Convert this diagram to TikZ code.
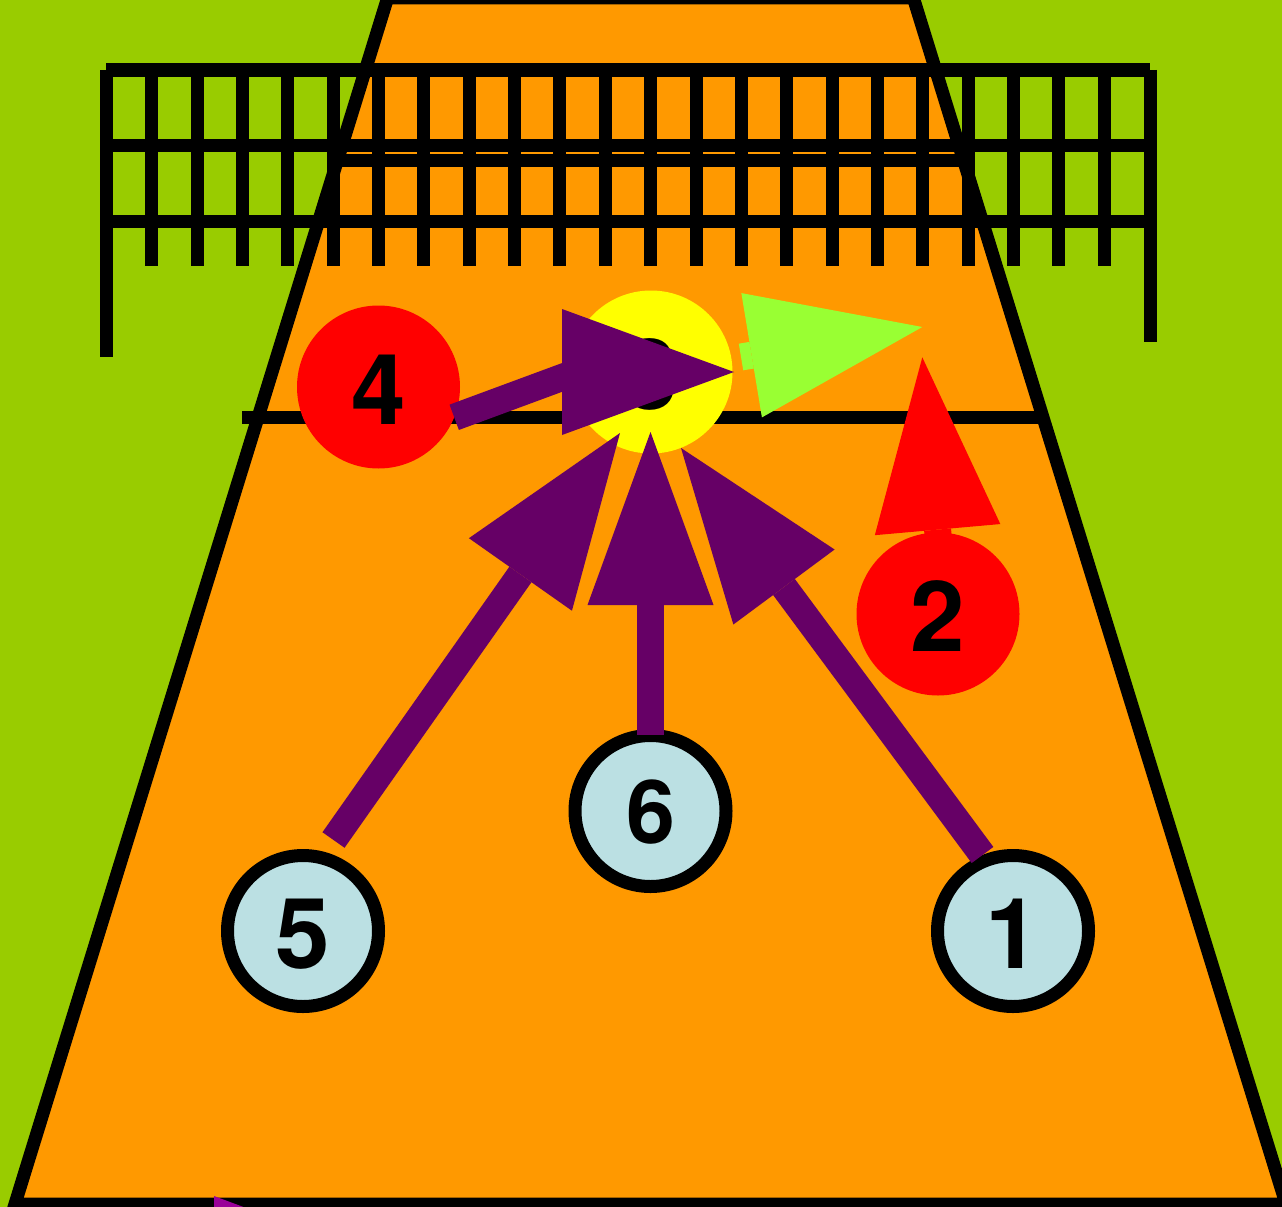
\documentclass[tikz,border=0pt]{standalone}
\usepackage{fontspec}
\setmainfont{TeX Gyre Heros}
\usetikzlibrary{arrows.meta}
\definecolor{grassc}{HTML}{99CC00}
\definecolor{courtc}{HTML}{FF9900}
\definecolor{purplec}{HTML}{660066}
\definecolor{limec}{HTML}{99FF33}
\definecolor{bluec}{HTML}{BBE0E3}
\definecolor{magentac}{HTML}{990099}
\definecolor{yellowc}{HTML}{FFFF00}
\definecolor{redc}{HTML}{FF0000}
\tikzset{
  blackline/.style={draw=black,line width=13pt},
  netbar/.style={blackline},
  digit/.style={font=\fontsize{98}{98}\selectfont\bfseries,text=black,inner sep=0pt,text height=74pt,text depth=0pt},
  attacker/.style={circle,digit,fill=redc,minimum size=163pt},
  setter/.style={circle,digit,fill=yellowc,minimum size=163pt},
  backrow/.style={circle,digit,draw=black,fill=bluec,line width=13pt,minimum size=151pt},
  arrowline/.style={line width=27pt,-{Triangle[length=173pt 0 0,width=126pt 0 0,line width=0pt 0]}},
  shaftline/.style={line width=27pt},
  headline/.style={line width=1pt,-{Triangle[length=172pt 0 0,width=126pt 0 0,line width=0pt 0]}},
}
\begin{document}
\begin{tikzpicture}[x=1pt,y=-1pt]
\useasboundingbox (0,0) rectangle (1282,1207);
\fill[grassc] (0,0) rectangle (1282,1207);
\begin{scope}
\clip (0,0) rectangle (1282,1207);
\draw[blackline,fill=courtc,line join=miter] (387.6,-2) -- (913.4,-2) -- (1286,1204) -- (15,1204) -- cycle;
\end{scope}
% net
\draw[netbar] (106,70) -- (1150,70);
\draw[netbar] (106,145) -- (1150,145);
\draw[netbar] (333,160) -- (968,160);
\draw[netbar] (106,221) -- (1150,221);
\draw[netbar] (106,70) -- (106,357);
\draw[netbar] (1150,70) -- (1150,342);
\foreach \i in {0,...,21} {
  \draw[netbar] ({151.7+45.36*\i},70) -- ({151.7+45.36*\i},266);
}
% attack line
\draw[blackline] (242,417.3) -- (1045,417.3);
% players
\node[setter] (n3) at (651,372) {3};
\node[attacker] (n4) at (378.5,387) {4};
\node[attacker] (n2) at (938,614) {2};
\node[backrow] (n5) at (303,931) {5};
\node[backrow,font=\fontsize{88}{88}\selectfont\bfseries,text height=65pt] (n6) at (650.5,811) {6};
\node[backrow] (n1) at (1013,931) {1};
% connector ends
\coordinate (s4) at (454.2,417.3);
\coordinate (b4) at (580,370.8);
\coordinate (h4) at (561,372);
\coordinate (t4) at (734,372);
\coordinate (s5) at (333.5,840);
\coordinate (t5) at (620,433);
\coordinate (s6) at (650.5,735);
\coordinate (t6) at (650.5,432);
\coordinate (s1) at (982.5,855);
\coordinate (t1) at (681,448);
\coordinate (sg) at (741,357);
\coordinate (tg) at (922.3,327);
\coordinate (sr) at (938.5,540);
\coordinate (tr) at (922.3,357.3);
% arrows
\draw[shaftline,purplec] (s4) -- (b4);
\draw[headline,purplec] (h4) -- (t4);
\draw[arrowline,purplec] (s5) -- (t5);
\draw[arrowline,purplec] (s6) -- (t6);
\draw[arrowline,purplec] (s1) -- (t1);
\draw[arrowline,limec] (sg) -- (tg);
\draw[arrowline,redc] (sr) -- (tr);
\fill[magentac] (214,1196) -- (243.5,1207) -- (214,1207) -- cycle;
\end{tikzpicture}
\end{document}
